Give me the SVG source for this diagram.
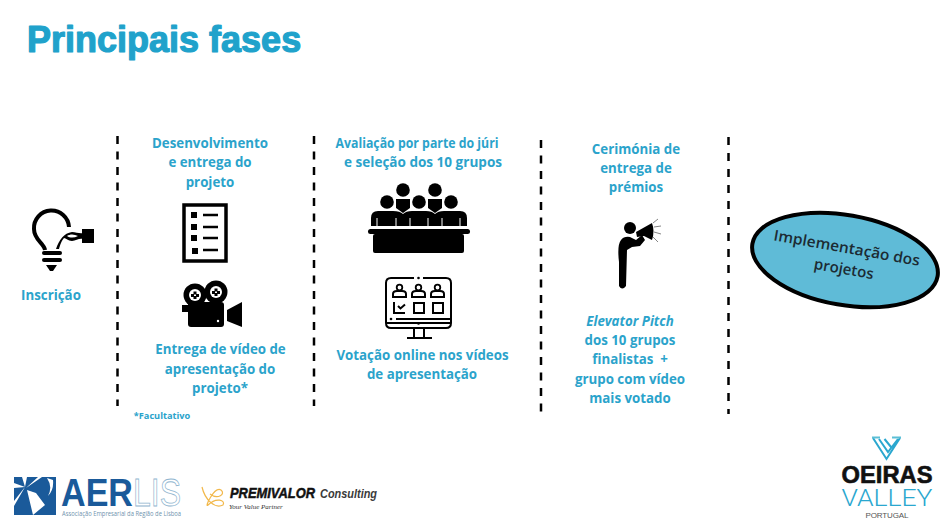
<svg xmlns="http://www.w3.org/2000/svg" width="947" height="521" viewBox="0 0 947 521">
<style>
text{font-family:"Open Sans","Noto Sans","Liberation Sans",sans-serif}
.t{font-size:13.3px;font-weight:700;fill:#2ba3cb;text-anchor:middle}
.d{stroke:#000;stroke-width:2.500;stroke-dasharray:8 7.500;fill:none}
.k{fill:#000}
.o{fill:none;stroke:#000}
.l{font-family:"Liberation Sans",sans-serif}
</style>
<rect width="947" height="521" fill="#fff"/>
<g id="title"><text class="l" x="27" y="52" style="font-size:36px;font-weight:700;stroke:#20a2cb;stroke-width:1.200;stroke-linejoin:round" fill="#20a2cb">Principais fases</text></g>
<g id="connectors">
<path class="d" d="M117.500 136V406"/>
<path class="d" d="M314 136V406"/>
<path class="d" d="M541 140V414"/>
<path class="d" style="stroke-dasharray:8 8" d="M728.500 137V414"/>
</g>
<g id="inscricao">
<path class="o" stroke-width="4" d="M45 250C44 243 34 240 34 229A17.500 17.500 0 0 1 69 227"/>
<path class="k" d="M56 249C59 240 64 233 72 232C76 232 80 234 83 233V239C79 238 76 241 72 241C68 241 66 238 64 238C62 240 60 245 59 249ZM67 236C70 238 74 238 78 236C74 234 70 234 67 236Z" fill-rule="evenodd"/>
<path class="k" d="M82 229H94V243H82Z"/>
<rect class="k" x="42" y="251" width="20" height="4" rx="2"/>
<rect class="k" x="42" y="258" width="20" height="4" rx="2"/>
<path class="k" d="M46 265H57L53 271H50Z"/>
<text class="t" x="51" y="300">Inscrição</text>
</g>
<g id="desenvolvimento">
<text class="t" x="210" y="148">Desenvolvimento</text>
<text class="t" x="210" y="167">e entrega do</text>
<text class="t" x="210" y="187">projeto</text>
<rect x="184" y="205" width="42" height="56" fill="#fff" stroke="#000" stroke-width="3.500"/>
<path class="k" d="M191 212h6v6h-6zM191 224h6v6h-6zM191 235h6v6h-6zM192 248h6v6h-6z"/>
<path class="o" stroke-width="2.500" d="M203 215h15M203 227h15M203 238h15M203 250h15"/>
</g>
<g id="video">
<circle class="k" cx="195" cy="295" r="11.500"/><circle class="k" cx="216" cy="292" r="11.500"/>
<circle cx="195" cy="295" r="6" fill="#fff"/><circle cx="216" cy="292" r="6" fill="#fff"/>
<path class="k" d="M193.500 291.500h3v3h-3zM193.500 296h3v3h-3zM191 294h3v3h-3zM196 294h3v3h-3zM214.500 288.500h3v3h-3zM214.500 293h3v3h-3zM212 291h3v3h-3zM217 291h3v3h-3z"/>
<rect class="k" x="188" y="302" width="36" height="25" rx="3"/>
<rect class="k" x="182" y="305" width="6" height="7"/>
<path class="k" d="M227 310L242 302V327L227 321Z"/>
<circle cx="218" cy="321" r="1.200" fill="#fff"/>
<text class="t" x="220.500" y="354">Entrega de vídeo de</text>
<text class="t" x="220" y="374">apresentação do</text>
<text class="t" x="220" y="393">projeto*</text>
<text x="162" y="419" style="font-size:9.200px;font-weight:700;text-anchor:middle" fill="#2ba3cb">*Facultativo</text>
</g>
<g id="juri">
<text class="t" x="417" y="148" textLength="163" lengthAdjust="spacingAndGlyphs">Avaliação por parte do júri</text>
<text class="t" x="423" y="167" textLength="158" lengthAdjust="spacingAndGlyphs">e seleção dos 10 grupos</text>
<circle class="k" cx="403" cy="190" r="6.800"/><circle class="k" cx="435" cy="190" r="6.800"/>
<circle class="k" cx="387" cy="202" r="6.800"/><circle class="k" cx="419" cy="202" r="6.800"/><circle class="k" cx="451" cy="202" r="6.800"/>
<path class="k" d="M396 199H410V208L403 213L396 208ZM428 199H442V208L435 213L428 208Z"/>
<path class="k" d="M371 226V218Q371 211 378 211H393Q400 211 403 214Q406 211 412 211H426Q432 211 435 214Q438 211 444 211H460Q467 211 467 218V226Z"/>
<rect class="k" x="368" y="229" width="102" height="5" rx="2.500"/>
<rect class="k" x="373" y="234" width="91" height="19" rx="2"/>
<path d="M377 218V226M396 218V226M410 218V226M428 218V226M442 218V226M460 218V226" stroke="#fff" stroke-width="1"/>
</g>
<g id="votacao">
<path class="o" stroke-width="2" d="M414 278H391Q386 278 386 283V323Q386 328 391 328H446Q451 328 451 323V283Q451 278 446 278H423M387 323H450M396 319H450"/>
<circle class="k" cx="418.500" cy="278" r="1.300"/><circle class="k" cx="391" cy="319" r="1.300"/><circle class="k" cx="418.500" cy="323.500" r="1.300"/>
<path class="o" stroke-width="2" d="M414 329V337M424 329V337M407 338H432"/>
<path class="o" stroke-width="2" d="M393 297V294Q393 291 397 291H402Q406 291 406 294V297ZM412 297V294Q412 291 416 291H421Q425 291 425 294V297ZM431 297V294Q431 291 435 291H440Q444 291 444 294V297Z"/>
<circle class="o" stroke-width="1.800" cx="399.500" cy="287.500" r="2.800"/><circle class="o" stroke-width="1.800" cx="418.500" cy="287.500" r="2.800"/><circle class="o" stroke-width="1.800" cx="437.500" cy="287.500" r="2.800"/>
<path class="o" stroke-width="2" d="M394 302V313H405M398 306l2.500 2.500 4.500-4M414 303h10v10h-10zM433 303h10v10h-10z"/>
<text class="t" x="422.500" y="360">Votação online nos vídeos</text>
<text class="t" x="422" y="379">de apresentação</text>
</g>
<g id="cerimonia">
<text class="t" x="636" y="154">Cerimónia de</text>
<text class="t" x="636" y="173">entrega de</text>
<text class="t" x="636" y="192">prémios</text>
<circle class="k" cx="630" cy="228" r="6"/>
<path class="k" d="M619 262Q617 245 621 240Q624 236 630 237L636 240L642 235L645 240L640 246L632 247L627 250L626 286Q622 291 619 286Z"/>
<path class="k" d="M636 232L652 223Q655 231 652 240L644 236L637 237Z"/>
<path class="o" style="stroke:#666" stroke-width=".8" d="M653 223L658 219M654 227L661 226M654 232L661 234M653 237L658 242"/>
<text x="630" y="326" class="t" style="font-style:italic">Elevator Pitch</text>
<text class="t" x="630" y="345">dos 10 grupos</text>
<text class="t" x="630" y="364" style="white-space:pre">finalistas  +</text>
<text class="t" x="630" y="384">grupo com vídeo</text>
<text class="t" x="630" y="403">mais votado</text>
</g>
<g id="implementacao">
<ellipse cx="845" cy="260" rx="94" ry="45" transform="rotate(10 845 260)" fill="#5fbbd7" stroke="#000" stroke-width="4"/>
<text transform="translate(846 253) rotate(10)" style="font-size:15px;font-weight:600;text-anchor:middle" fill="#1c2b33" textLength="148" lengthAdjust="spacingAndGlyphs">Implementação dos</text>
<text transform="translate(843 274) rotate(10)" style="font-size:15px;font-weight:600;text-anchor:middle" fill="#1c2b33">projetos</text>
</g>
<g id="aerlis">
<rect x="14" y="477" width="42" height="38" fill="#1a5a9a"/>
<path fill="#fff" d="M25 487L22 477H27ZM25 487L14 483V488ZM25 487L14 501V506ZM26 488L38 477H42ZM27 490L33 515L45 505L36 493ZM47 478Q53 487 48 496Q54 490 53 480Z"/>
<text class="l" x="61" y="506" style="font-size:39px;font-weight:700" fill="#1a5a9a" textLength="72" lengthAdjust="spacingAndGlyphs">AER</text>
<text class="l" x="133" y="506" style="font-size:39px;stroke:#8fb5cf;stroke-width:.8" fill="#fff" textLength="48" lengthAdjust="spacingAndGlyphs">LIS</text>
<text x="62" y="516" style="font-size:7.500px" fill="#6f93ad" textLength="119" lengthAdjust="spacingAndGlyphs">Associação Empresarial da Região de Lisboa</text>
</g>
<g id="premivalor">
<path class="o" style="stroke:#f2b84a" stroke-width="1.200" d="M202 487C205 500 215 509 223 505C226 500 216 497 208 505C204 509 214 486 221 490C226 494 218 500 210 494"/>
<text class="l" x="230" y="498" style="font-size:15px;font-weight:700;font-style:italic;stroke:#111;stroke-width:.5" fill="#111" textLength="85" lengthAdjust="spacingAndGlyphs">PREMIVALOR</text>
<text class="l" x="320" y="498" style="font-size:12.500px;font-weight:700;font-style:italic" fill="#3a3a3a" textLength="57" lengthAdjust="spacingAndGlyphs">Consulting</text>
<text x="229" y="509" style="font-family:'Liberation Serif',serif;font-size:7px;font-style:italic" fill="#333">Your Value Partner</text>
</g>
<g id="oeiras">
<path class="o" style="stroke:#2aa7cf" stroke-width="2" d="M873 438L886.500 459L900 438M879 439L888 452L898 439M884.500 439L891 447"/>
<path class="o" style="stroke:#5cbfd6" stroke-width="2" d="M872 437.500H880M892 437.500H901"/>
<text class="l" x="887" y="483" style="font-size:23px;font-weight:700;text-anchor:middle;stroke:#111;stroke-width:.6" fill="#111" textLength="91" lengthAdjust="spacingAndGlyphs">OEIRAS</text>
<text x="887" y="506" style="font-family:Roboto,'Liberation Sans',sans-serif;font-size:24px;font-weight:300;text-anchor:middle" fill="#2aa7cf" textLength="91" lengthAdjust="spacingAndGlyphs">VALLEY</text>
<text class="l" x="887" y="518" style="font-size:8px;text-anchor:middle" fill="#555" textLength="43">PORTUGAL</text>
</g>
</svg>
